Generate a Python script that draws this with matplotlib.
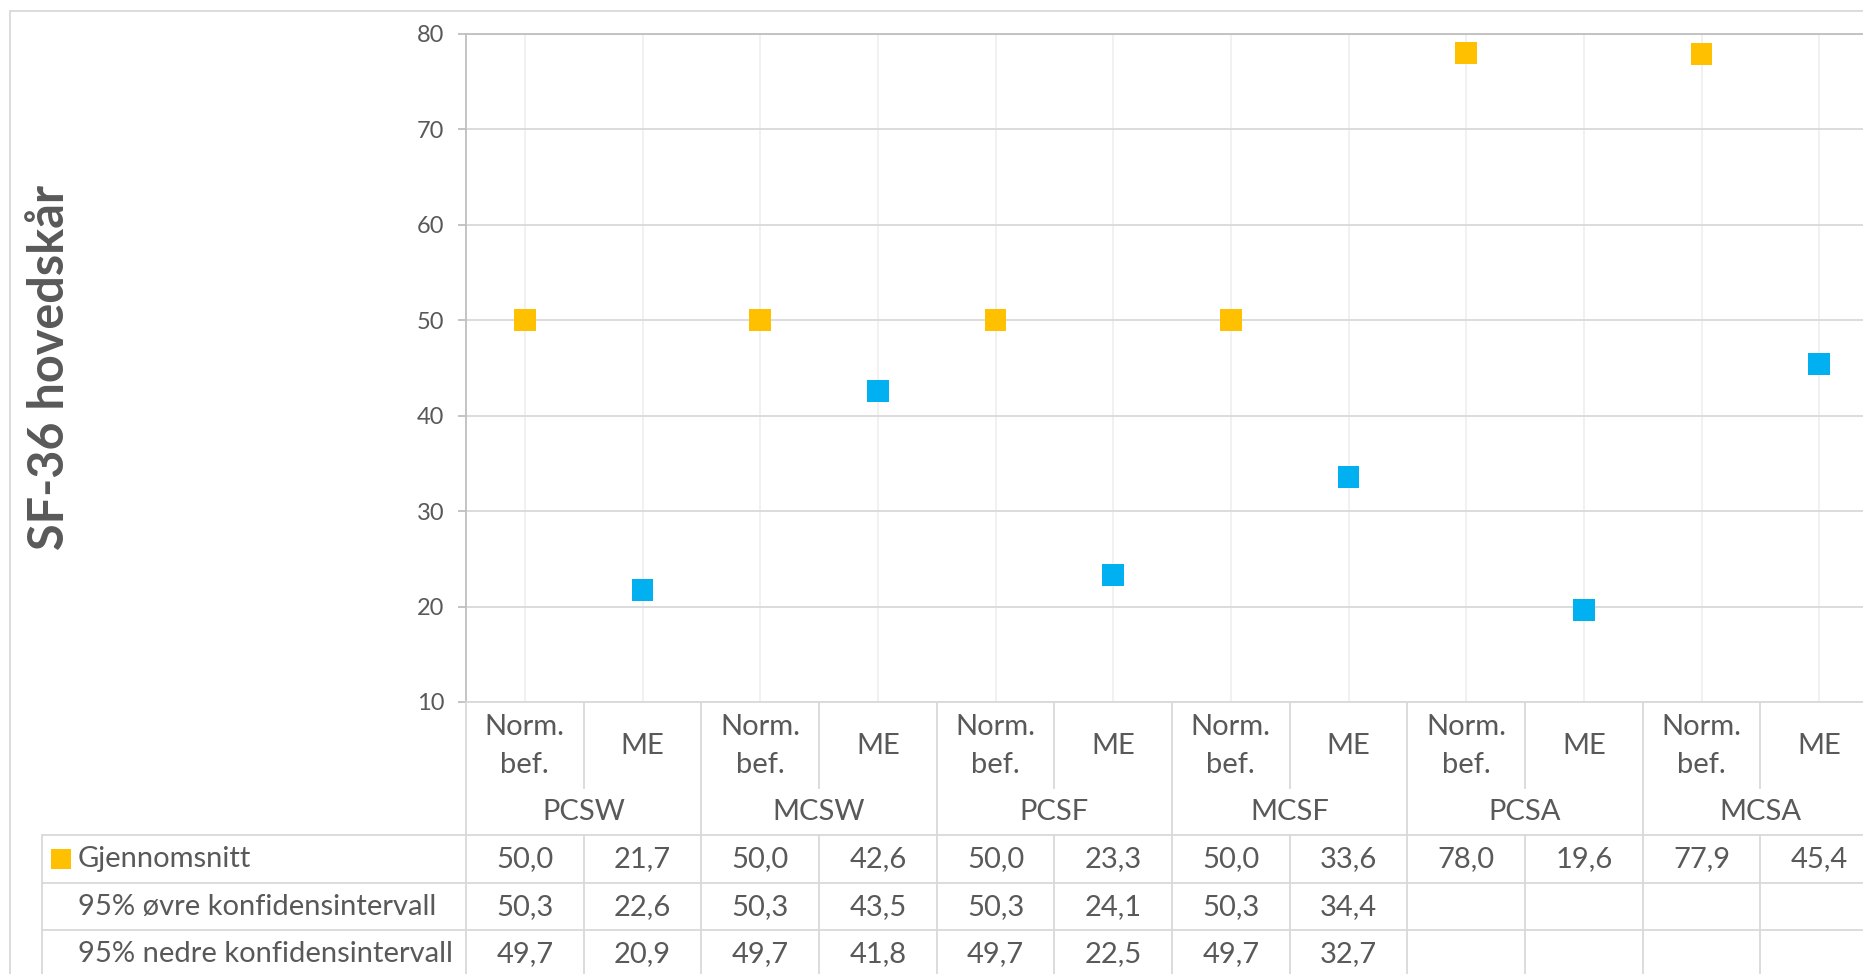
import matplotlib
matplotlib.use("Agg")
import matplotlib.pyplot as plt
from matplotlib.lines import Line2D
from matplotlib.transforms import blended_transform_factory

plt.rcParams['font.family'] = ['Lato', 'DejaVu Sans']

# --- data ---
groups = ["PCSW", "MCSW", "PCSF", "MCSF", "PCSA", "MCSA"]
subgroups = ["Norm.\nbef.", "ME"]
mean = [50.0, 21.7, 50.0, 42.6, 50.0, 23.3, 50.0, 33.6, 78.0, 19.6, 77.9, 45.4]
ci_upper = [50.3, 22.6, 50.3, 43.5, 50.3, 24.1, 50.3, 34.4, None, None, None, None]
ci_lower = [49.7, 20.9, 49.7, 41.8, 49.7, 22.5, 49.7, 32.7, None, None, None, None]
row_labels = ["Gjennomsnitt", "95% øvre konfidensintervall", "95% nedre konfidensintervall"]
y_ticks = [10, 20, 30, 40, 50, 60, 70, 80]

YELLOW = "#FFC000"
BLUE = "#00B0F0"
TXT = "#595959"
LINE = "#d9d9d9"
FS = 21

# --- layout (pixels) ---
W, H = 1863, 974
x0, x1 = 466, 1878          # plot area runs past the right edge (cropped chart)
y_top, y_bot = 34, 702
n = len(mean)
col_w = (x1 - x0) / n

fig = plt.figure(figsize=(W / 100, H / 100), dpi=100)
ax = fig.add_axes([x0 / W, 1 - y_bot / H, (x1 - x0) / W, (y_bot - y_top) / H])

xs = list(range(n))
colors = [YELLOW if i % 2 == 0 else BLUE for i in xs]

ax.set_xlim(-0.5, n - 0.5)
ax.set_ylim(y_ticks[0], y_ticks[-1])
ax.set_yticks(y_ticks)
ax.set_xticks([])
ax.yaxis.grid(True, color=LINE, lw=1.3)
ax.set_axisbelow(True)
ax.vlines(xs, y_ticks[0], y_ticks[-1], color="#f0f0f0", lw=1.3, zorder=0)
ax.scatter(xs, mean, marker="s", s=15.8 ** 2, c=colors, linewidths=0, zorder=3)

ax.spines["right"].set_visible(False)
ax.spines["left"].set_color("#bfbfbf")
ax.spines["top"].set_color("#bfbfbf")
ax.spines["bottom"].set_color(LINE)
for s in ax.spines.values():
    s.set_linewidth(1.3)
ax.tick_params(axis="y", length=5.8, width=1.3, color="#bfbfbf", labelcolor=TXT,
               labelsize=17, pad=10)

# --- data table below the axis ---
tr = blended_transform_factory(ax.transData, fig.transFigure)


def fy(py):
    return 1 - py / H


def hline(xa, xb, py):
    ax.plot([xa, xb], [fy(py), fy(py)], color=LINE, lw=1.3, transform=tr, clip_on=False)


def vline(x, pa, pb):
    ax.plot([x, x], [fy(pa), fy(pb)], color=LINE, lw=1.3, transform=tr, clip_on=False)


cat_top, cat_bot, grp_bot = 702, 788, 835
row_h = 47.7
x_left = -0.5 - (x0 - 42) / col_w

for b in range(n + 1):
    xb = b - 0.5
    if b % 2 == 0:
        vline(xb, cat_top, grp_bot)
    else:
        vline(xb, cat_top, cat_bot)
    vline(xb, grp_bot, H + 5)
vline(x_left, grp_bot, H + 5)
for r in range(len(row_labels) + 1):
    hline(x_left, n, grp_bot + r * row_h)

for i in xs:
    ax.text(i, fy((cat_top + cat_bot) / 2 + 1), subgroups[i % 2], transform=tr,
            ha="center", va="center", fontsize=FS, color=TXT, linespacing=1.55)
for g, name in enumerate(groups):
    ax.text(2 * g + 0.5, fy((cat_bot + grp_bot) / 2), name, transform=tr,
            ha="center", va="center", fontsize=FS, color=TXT)

rows = [mean, ci_upper, ci_lower]
label_x = -0.5 - (x0 - 78) / col_w
for r, (lab, vals) in enumerate(zip(row_labels, rows)):
    yc = fy(grp_bot + (r + 0.5) * row_h)
    ax.text(label_x, yc, lab, transform=tr, ha="left", va="center",
            fontsize=FS, color=TXT)
    for i, v in enumerate(vals):
        if v is None:
            continue
        ax.text(i, yc, f"{v:.1f}".replace(".", ","), transform=tr,
                ha="center", va="center", fontsize=FS, color=TXT)

# legend key in first row
ax.plot([-0.5 - (x0 - 61) / col_w], [fy(grp_bot + 0.5 * row_h)], marker="s",
        markersize=13.7, color=YELLOW, markeredgewidth=0, transform=tr, clip_on=False)

# y axis title
fig.text(50 / W, fy(368), "SF-36 hovedskår", rotation=90, ha="center", va="center",
         fontsize=35, fontweight="bold", color=TXT)

# chart border
fig.add_artist(Line2D([10 / W, 10 / W], [0, fy(11)], color=LINE, lw=1.3))
fig.add_artist(Line2D([10 / W, 1], [fy(11), fy(11)], color=LINE, lw=1.3))

fig.savefig("out.png", dpi=100)
